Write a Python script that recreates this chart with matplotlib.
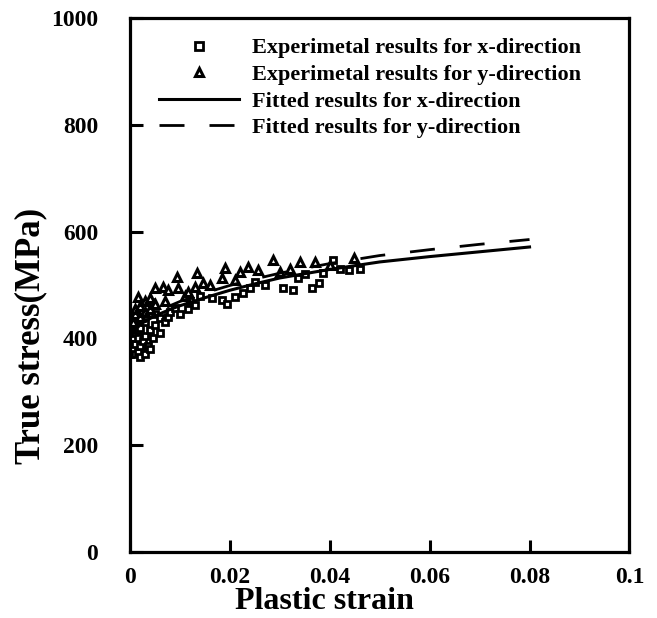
import matplotlib.pyplot as plt

# Experimental results, x-direction (squares)
exp_x_strain = [0, 0, 0, 0, 0, 0, 0.0005, 0.0005, 0.001, 0.001, 0.001, 0.001,
                0.0015, 0.0015, 0.0016, 0.002, 0.002, 0.002, 0.0025, 0.003, 0.003,
                0.003, 0.0035, 0.004, 0.004, 0.004, 0.0045, 0.005, 0.005, 0.006,
                0.006, 0.007, 0.0076, 0.008, 0.009, 0.010, 0.0116, 0.012, 0.013,
                0.014, 0.0165, 0.0185, 0.0195, 0.021, 0.0227, 0.024, 0.025, 0.027,
                0.0307, 0.0327, 0.0337, 0.035, 0.0365, 0.0378, 0.0386, 0.0406,
                0.042, 0.0438, 0.046]
exp_x_stress = [370, 385, 395, 405, 415, 425, 380, 400, 370, 390, 410, 430,
                375, 400, 416, 365, 385, 420, 395, 370, 405,
                430, 385, 380, 415, 468, 400, 425, 445, 438,
                410, 430, 440, 450, 457, 445, 455, 470, 462,
                480, 476, 472, 464, 478, 485, 495, 506, 500,
                494, 490, 513, 520, 495, 504, 522, 547,
                530, 528, 530]

# Experimental results, y-direction (triangles)
exp_y_strain = [0, 0, 0, 0.0005, 0.001, 0.001, 0.0016, 0.002, 0.002, 0.003,
                0.003, 0.004, 0.004, 0.005, 0.005, 0.0066, 0.007, 0.0076, 0.0094,
                0.0096, 0.011, 0.0116, 0.013, 0.0134, 0.0147, 0.016, 0.0185,
                0.019, 0.021, 0.022, 0.0237, 0.0257, 0.0287, 0.030, 0.032, 0.034,
                0.037, 0.040, 0.0448]
exp_y_stress = [420, 440, 450, 430, 445, 455, 478, 440, 460, 450,
                470, 455, 475, 494, 465, 496, 470, 490, 515,
                494, 480, 487, 496, 522, 504, 500, 513,
                532, 510, 524, 534, 528, 547, 525, 530, 543,
                543, 538, 550]

# Fitted curves
fit_strain = [0, 0.001, 0.002, 0.004, 0.006, 0.008, 0.010, 0.015, 0.020, 0.025,
              0.030, 0.035, 0.040, 0.050, 0.060, 0.070, 0.080]
fit_x_stress = [400, 418, 426, 437, 446, 454, 461, 476, 490, 502,
                513, 521, 529, 543, 553, 562, 571]
fit_y_stress = [400, 420, 430, 442, 452, 461, 469, 485, 499, 511,
                522, 531, 540, 555, 566, 576, 585]

plt.rcParams['font.family'] = ['Liberation Serif', 'DejaVu Serif']
plt.rcParams['font.weight'] = 'bold'

fig = plt.figure(figsize=(6.57, 6.18), dpi=100)
ax = fig.add_axes([0.198, 0.107, 0.760, 0.864])

ax.plot(exp_x_strain, exp_x_stress, linestyle='none', marker='s', markersize=5,
        markerfacecolor='white', markeredgecolor='black', markeredgewidth=2,
        label='Experimetal results for x-direction')
ax.plot(exp_y_strain, exp_y_stress, linestyle='none', marker='^', markersize=5.5,
        markerfacecolor='white', markeredgecolor='black', markeredgewidth=2.2,
        label='Experimetal results for y-direction')
ax.plot(fit_strain, fit_x_stress, color='black', linewidth=2.2,
        label='Fitted results for x-direction')
ax.plot(fit_strain, fit_y_stress, color='black', linewidth=2,
        dashes=(9, 9), label='Fitted results for y-direction')

ax.set_xlim(0, 0.1)
ax.set_ylim(0, 1000)
ax.set_xticks([0, 0.02, 0.04, 0.06, 0.08, 0.1])
ax.set_xticklabels(['0', '0.02', '0.04', '0.06', '0.08', '0.1'])
ax.set_yticks([0, 200, 400, 600, 800, 1000])

ax.tick_params(direction='in', length=9, width=2.2, labelsize=17,
               top=False, right=False)
ax.tick_params(axis='x', pad=11)
ax.tick_params(axis='y', pad=23)
for s in ax.spines.values():
    s.set_linewidth(2.3)

ax.set_xlabel('Plastic strain', fontsize=23, fontweight='bold')
ax.set_ylabel('True stress(MPa)', fontsize=25, fontweight='bold')
ax.xaxis.set_label_coords(0.39, -0.066)
ax.yaxis.set_label_coords(-0.165, 0.405)

ax.legend(loc='upper left', bbox_to_anchor=(0.017, 1.0), frameon=False,
          fontsize=16, handlelength=3.6, handletextpad=0.6,
          labelspacing=0.27, markerscale=1.1)

fig.savefig('out.png', dpi=100)
